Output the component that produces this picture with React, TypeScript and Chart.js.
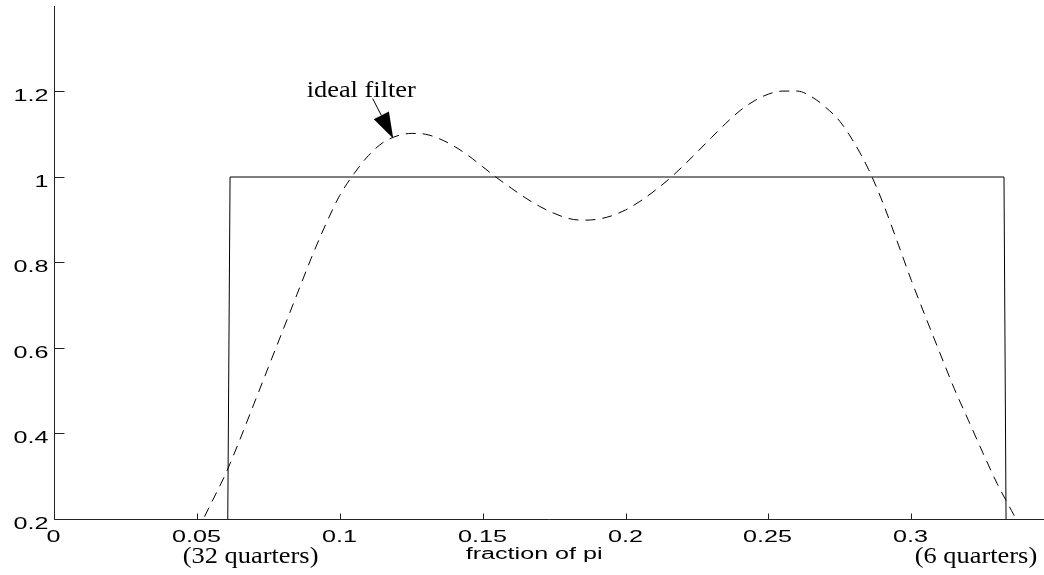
import { useEffect, useRef } from 'react';
import { Chart, registerables } from 'chart.js';

Chart.register(...registerables);

// ---- data ----
const responseX = [
  0.05, 0.055, 0.06, 0.065, 0.07, 0.075, 0.08, 0.085, 0.09, 0.095,
  0.1, 0.105, 0.11, 0.115, 0.12, 0.125, 0.13, 0.135, 0.14, 0.145,
  0.15, 0.155, 0.16, 0.165, 0.17, 0.175, 0.18, 0.185, 0.19, 0.195,
  0.2, 0.205, 0.21, 0.215, 0.22, 0.225, 0.23, 0.235, 0.24, 0.245,
  0.25, 0.255, 0.26, 0.265, 0.27, 0.275, 0.28, 0.285, 0.29, 0.295,
  0.3, 0.305, 0.31, 0.315, 0.32, 0.325, 0.33, 0.335, 0.34,
];
const responseY = [
  0.17, 0.237, 0.305, 0.385, 0.47, 0.555, 0.64, 0.725, 0.81, 0.888,
  0.957, 1.008, 1.05, 1.08, 1.096, 1.102, 1.1, 1.089, 1.072, 1.05,
  1.024, 0.998, 0.974, 0.951, 0.931, 0.915, 0.903, 0.899, 0.901, 0.909,
  0.923, 0.943, 0.967, 0.994, 1.025, 1.058, 1.092, 1.125, 1.155, 1.178,
  1.194, 1.201, 1.201, 1.188, 1.163, 1.13, 1.08, 1.018, 0.94, 0.85,
  0.758, 0.672, 0.588, 0.505, 0.43, 0.355, 0.283, 0.22, 0.16,
];
const idealX = [0, 0.0606, 0.0616, 0.3324, 0.3333, 0.36];
const idealY = [0, 0, 1, 1, 0, 0];

const xTickValues = [0, 0.05, 0.1, 0.15, 0.2, 0.25, 0.3];
const xTickLabels = ['0', '0.05', '0.1', '0.15', '0.2', '0.25', '0.3'];
const yTickValues = [0.2, 0.4, 0.6, 0.8, 1, 1.2];
const yTickLabels = ['0.2', '0.4', '0.6', '0.8', '1', '1.2'];

const xMin = 0;
const xMax = 0.3464;
const yMin = 0.2;
const yMax = 1.4;

const xAxisTitle = 'fraction of pi';
const leftNote = '(32 quarters)';
const leftNoteX = 0.0688;
const rightNote = '(6 quarters)';
const rightNoteX = 0.3226;
const annotationText = 'ideal filter';
const annotationTipX = 0.1187;
const annotationTipY = 1.09;

// ---- drawing helpers ----
const SANS = '16px "Liberation Sans", Arial, sans-serif';
const SERIF = '24px "Liberation Serif", "Times New Roman", serif';
const SANS_STRETCH = 1.57;
const SERIF_STRETCH = 1.1;

function drawStretched(
  ctx: CanvasRenderingContext2D,
  text: string,
  x: number,
  y: number,
  align: 'left' | 'center' | 'right',
  font: string,
  sx: number
) {
  ctx.save();
  ctx.font = font;
  ctx.textBaseline = 'alphabetic';
  ctx.textAlign = 'left';
  const w = ctx.measureText(text).width * sx;
  const left = align === 'center' ? x - w / 2 : align === 'right' ? x - w : x;
  ctx.translate(left, y);
  ctx.scale(sx, 1);
  ctx.fillStyle = '#000';
  ctx.fillText(text, 0, 0);
  ctx.restore();
}

const axesPlugin = {
  id: 'matlabAxes',
  afterDraw(chart: any) {
    const ctx: CanvasRenderingContext2D = chart.ctx;
    const xs = chart.scales.x;
    const ys = chart.scales.y;
    const area = chart.chartArea;
    const x0 = Math.round(area.left) + 0.5;
    const yb = Math.round(area.bottom) + 0.5;

    ctx.save();
    ctx.strokeStyle = '#222';
    ctx.lineWidth = 1;
    // axis lines
    ctx.beginPath();
    ctx.moveTo(x0, Math.round(area.top));
    ctx.lineTo(x0, yb);
    ctx.lineTo(area.right, yb);
    ctx.stroke();

    // y ticks (inward)
    yTickValues.forEach((v, i) => {
      const py = Math.round(ys.getPixelForValue(v)) + 0.5;
      ctx.beginPath();
      ctx.moveTo(x0, py);
      ctx.lineTo(x0 + 10, py);
      ctx.stroke();
      drawStretched(ctx, yTickLabels[i], x0 - 6, py + 9, 'right', SANS, SANS_STRETCH);
    });

    // x ticks (inward)
    xTickValues.forEach((v, i) => {
      const px = Math.round(xs.getPixelForValue(v)) + 0.5;
      ctx.beginPath();
      ctx.moveTo(px, yb);
      ctx.lineTo(px, yb - 6);
      ctx.stroke();
      drawStretched(ctx, xTickLabels[i], px - 1, yb + 22, 'center', SANS, SANS_STRETCH);
    });

    // axis title and notes
    drawStretched(ctx, xAxisTitle, xs.getPixelForValue(0.168), yb + 39, 'center', SANS, SANS_STRETCH);
    drawStretched(ctx, leftNote, xs.getPixelForValue(leftNoteX), yb + 43, 'center', SERIF, SERIF_STRETCH);
    drawStretched(ctx, rightNote, xs.getPixelForValue(rightNoteX), yb + 43, 'center', SERIF, SERIF_STRETCH);

    // annotation arrow
    const tx = xs.getPixelForValue(annotationTipX);
    const ty = ys.getPixelForValue(annotationTipY);
    const tailX = tx - 20.6;
    const tailY = ty - 40;
    const dx = tx - tailX;
    const dy = ty - tailY;
    const len = Math.sqrt(dx * dx + dy * dy);
    const ux = dx / len;
    const uy = dy / len;
    const headLen = 26;
    const halfW = 8.5;
    const bx = tx - ux * headLen;
    const by = ty - uy * headLen;
    ctx.strokeStyle = '#000';
    ctx.beginPath();
    ctx.moveTo(tailX, tailY);
    ctx.lineTo(bx, by);
    ctx.stroke();
    ctx.fillStyle = '#000';
    ctx.beginPath();
    ctx.moveTo(tx, ty);
    ctx.lineTo(bx - uy * halfW, by + ux * halfW);
    ctx.lineTo(bx + uy * halfW, by - ux * halfW);
    ctx.closePath();
    ctx.fill();
    drawStretched(ctx, annotationText, tx - 86.6, ty - 42, 'left', SERIF, SERIF_STRETCH);
    ctx.restore();
  },
};

export default function App() {
  const canvasRef = useRef<HTMLCanvasElement | null>(null);

  useEffect(() => {
    const canvas = canvasRef.current;
    if (!canvas) return;
    const chart = new Chart(canvas, {
      type: 'line',
      data: {
        datasets: [
          {
            label: 'ideal filter',
            data: idealX.map((x, i) => ({ x, y: idealY[i] })),
            borderColor: '#000',
            borderWidth: 1,
            pointRadius: 0,
            tension: 0,
            fill: false,
          },
          {
            label: 'response',
            data: responseX.map((x, i) => ({ x, y: responseY[i] })),
            borderColor: '#000',
            borderWidth: 1,
            borderDash: [10, 7],
            pointRadius: 0,
            cubicInterpolationMode: 'monotone',
            fill: false,
          },
        ],
      },
      options: {
        responsive: false,
        animation: false,
        devicePixelRatio: 1,
        layout: { padding: { left: 54, top: 6, right: 0, bottom: 56 } },
        plugins: {
          legend: { display: false },
          tooltip: { enabled: false },
        },
        scales: {
          x: { type: 'linear', min: xMin, max: xMax, display: false },
          y: { type: 'linear', min: yMin, max: yMax, display: false },
        },
      },
      plugins: [axesPlugin],
    } as any);
    return () => chart.destroy();
  }, []);

  return (
    <div style={{ position: 'fixed', left: 0, top: 0, width: 1044, height: 575, background: '#fff' }}>
      <canvas ref={canvasRef} width={1044} height={575} style={{ display: 'block' }} />
    </div>
  );
}
